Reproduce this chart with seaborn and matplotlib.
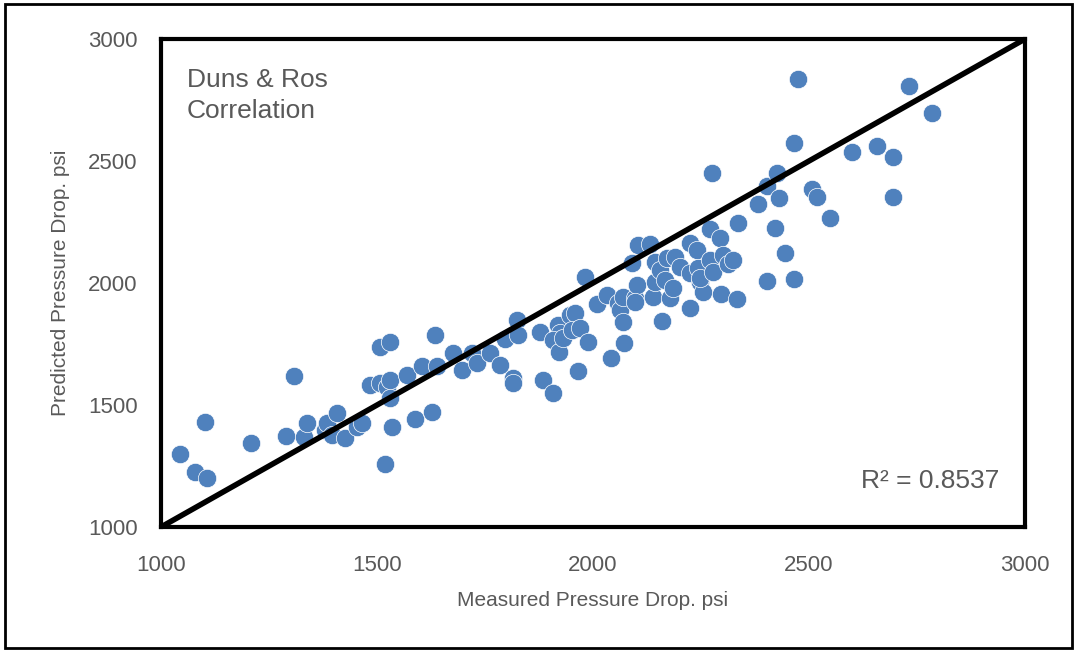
import matplotlib
matplotlib.use("Agg")
import numpy as np
import pandas as pd
import seaborn as sns
from matplotlib import pyplot as plt
from matplotlib.patches import Rectangle

# measured vs predicted pressure drop (psi)
measured = [
    1044, 1079, 1106, 1102, 1208, 1289, 1308, 1331, 1338, 1380,
    1384, 1396, 1407, 1426, 1454, 1465, 1484, 1507, 1523, 1530,
    1530, 1535, 1519, 1507, 1530, 1569, 1588, 1604, 1627, 1634,
    1639, 1676, 1697, 1720, 1731, 1762, 1785, 1796, 1815, 1815,
    1824, 1826, 1877, 1884, 1907, 1919, 1924, 1907, 1921, 1931,
    1947, 1958, 1951, 1970, 1965, 1988, 1981, 2009, 2032, 2042,
    2058, 2062, 2069, 2069, 2072, 2097, 2102, 2097, 2090, 2104,
    2132, 2139, 2144, 2144, 2160, 2155, 2171, 2167, 2178, 2185,
    2190, 2201, 2225, 2225, 2225, 2241, 2243, 2248, 2255, 2248,
    2271, 2275, 2271, 2278, 2294, 2296, 2301, 2313, 2324, 2333,
    2336, 2382, 2403, 2403, 2421, 2426, 2431, 2444, 2465, 2465,
    2475, 2507, 2519, 2549, 2600, 2657, 2694, 2694, 2731, 2785,
]
predicted = [
    1299, 1225, 1201, 1430, 1344, 1373, 1619, 1369, 1426, 1398,
    1426, 1377, 1467, 1365, 1410, 1426, 1582, 1590, 1574, 1602,
    1529, 1410, 1258, 1738, 1758, 1623, 1443, 1660, 1471, 1787,
    1660, 1713, 1643, 1713, 1672, 1713, 1664, 1770, 1611, 1590,
    1848, 1787, 1799, 1602, 1549, 1828, 1795, 1766, 1717, 1775,
    1869, 1877, 1807, 1816, 1639, 1758, 2025, 1914, 1951, 1693,
    1918, 1889, 1943, 1840, 1754, 1939, 1992, 1922, 2082, 2156,
    2160, 1943, 2086, 2004, 1844, 2053, 2102, 2012, 1939, 1980,
    2107, 2066, 2164, 2041, 1898, 2135, 2061, 2004, 1963, 2020,
    2094, 2451, 2221, 2045, 2184, 1955, 2115, 2078, 2094, 1934,
    2246, 2324, 2398, 2008, 2225, 2451, 2348, 2123, 2016, 2574,
    2836, 2385, 2352, 2266, 2537, 2561, 2516, 2352, 2807, 2697,
]
axis_ticks = [1000, 1500, 2000, 2500, 3000]
r_squared = 0.8537

df = pd.DataFrame({"measured": measured, "predicted": predicted})

sns.set_style("white")
plt.rcParams["font.family"] = ["Liberation Sans Narrow", "Liberation Sans", "DejaVu Sans"]
text_gray = "#595959"

fig = plt.figure(figsize=(10.75, 6.52), dpi=100)
ax = fig.add_axes([0.1498, 0.1917, 0.8037, 0.7485])

sns.scatterplot(
    data=df, x="measured", y="predicted", ax=ax,
    color="#4f81bd", s=175, edgecolor="#ffffff", linewidth=0.5, zorder=3,
)
# 1:1 reference line
ax.axline((axis_ticks[0], axis_ticks[0]), slope=1, color="black", lw=4, zorder=4)

ax.set_xlim(axis_ticks[0], axis_ticks[-1])
ax.set_ylim(axis_ticks[0], axis_ticks[-1])
ax.set_xticks(axis_ticks)
ax.set_yticks(axis_ticks)
ax.tick_params(axis="x", length=0, pad=20, labelsize=16, labelcolor=text_gray)
ax.tick_params(axis="y", length=0, pad=17, labelsize=16, labelcolor=text_gray)
for side in ["top", "right", "left", "bottom"]:
    ax.spines[side].set_color("black")
    ax.spines[side].set_linewidth(3)

ax.set_xlabel("Measured Pressure Drop. psi", fontsize=15, color=text_gray, labelpad=11)
ax.set_ylabel("Predicted Pressure Drop. psi", fontsize=15, color=text_gray, labelpad=13)

ax.text(0.03, 0.94, "Duns & Ros\nCorrelation", transform=ax.transAxes,
        fontsize=19, color=text_gray, va="top", ha="left", linespacing=1.35)
ax.text(0.97, 0.095, f"R² = {r_squared}", transform=ax.transAxes,
        fontsize=19, color=text_gray, va="center", ha="right")

# outer frame around the whole chart
fig.patches.append(Rectangle((0.005, 0.006), 0.992, 0.988, transform=fig.transFigure,
                             fill=False, edgecolor="black", lw=2))

plt.savefig("out.png", dpi=100)
